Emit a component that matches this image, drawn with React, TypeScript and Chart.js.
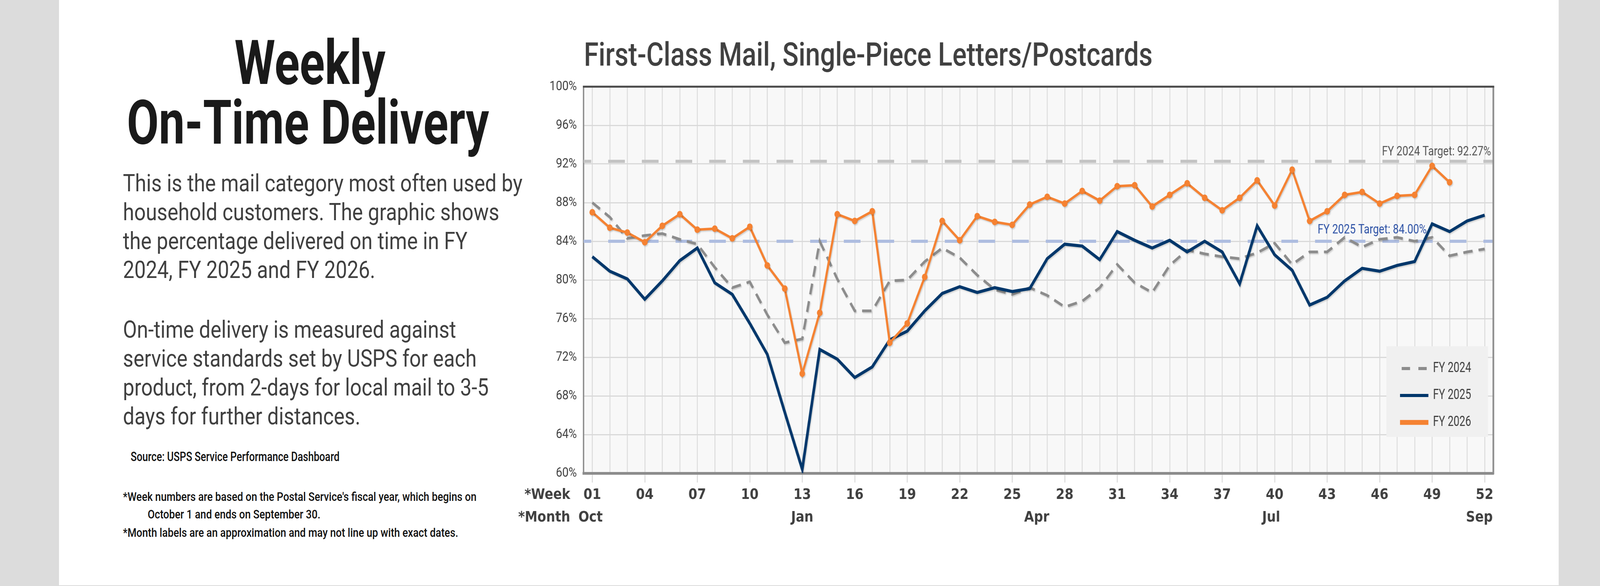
import { useEffect, useRef } from "react";
import { Chart, registerables } from "chart.js";

Chart.register(...registerables);

// ---- data ----
const weeks = [
  "01", "02", "03", "04", "05", "06", "07", "08", "09", "10",
  "11", "12", "13", "14", "15", "16", "17", "18", "19", "20",
  "21", "22", "23", "24", "25", "26", "27", "28", "29", "30",
  "31", "32", "33", "34", "35", "36", "37", "38", "39", "40",
  "41", "42", "43", "44", "45", "46", "47", "48", "49", "50",
  "51", "52",
];

const fy2024 = [
  88.0, 86.5, 84.3, 84.6, 84.8, 84.2, 83.7, 81.3, 79.2, 79.8,
  76.4, 73.5, 73.9, 84.0, 80.1, 76.8, 76.8, 79.9, 80.0, 81.9,
  83.3, 82.3, 80.5, 79.0, 78.5, 79.2, 78.4, 77.2, 77.8, 79.2,
  81.6, 79.7, 78.7, 81.5, 83.1, 82.7, 82.4, 82.2, 82.8, 83.8,
  81.6, 82.9, 82.9, 84.4, 83.4, 84.2, 84.4, 84.0, 84.4, 82.5,
  82.9, 83.2,
];

const fy2025 = [
  82.4, 80.9, 80.1, 78.0, 79.9, 82.0, 83.3, 79.7, 78.5, 75.5,
  72.3, 66.3, 60.4, 72.8, 71.8, 69.9, 71.0, 73.8, 74.7, 76.8,
  78.6, 79.3, 78.7, 79.2, 78.8, 79.1, 82.2, 83.7, 83.5, 82.1,
  85.0, 84.1, 83.3, 84.1, 82.9, 84.0, 82.9, 79.6, 85.6, 82.6,
  81.0, 77.4, 78.2, 79.9, 81.2, 80.9, 81.5, 81.9, 85.8, 85.0,
  86.1, 86.7,
];

const fy2026 = [
  87.0, 85.4, 84.9, 83.9, 85.6, 86.8, 85.2, 85.3, 84.3, 85.5,
  81.5, 79.1, 70.3, 76.6, 86.8, 86.1, 87.1, 73.5, 75.5, 80.3,
  86.1, 84.1, 86.6, 86.0, 85.7, 87.8, 88.6, 87.9, 89.2, 88.2,
  89.7, 89.8, 87.6, 88.8, 90.0, 88.5, 87.2, 88.5, 90.3, 87.7,
  91.4, 86.1, 87.1, 88.8, 89.1, 87.9, 88.7, 88.8, 91.8, 90.1,
  null, null,
];

const seriesNames = ["FY 2024", "FY 2025", "FY 2026"];
const targetValues = [92.27, 84.0];
const targetLabels = ["FY 2024 Target: 92.27%", "FY 2025 Target: 84.00%"];
const monthLabels = ["Oct", "Jan", "Apr", "Jul", "Sep"];
const monthWeeks = [0.9, 13, 26.4, 39.8, 51.7];
const yMin = 60;
const yMax = 100;
const yStep = 4;

const chartTitle = "First-Class Mail, Single-Piece Letters/Postcards";
const weekCaption = "*Week";
const monthCaption = "*Month";

// the design is laid out on the 4801x1501 reference grid and squeezed to the real window
const DESIGN_W = 4801;
const DESIGN_H = 1501;

const ROBOTO = "Roboto, 'Noto Sans', sans-serif";
const AXIS_FONT = "bold 38px 'DejaVu Sans', sans-serif";

function drawText(
  ctx: CanvasRenderingContext2D,
  text: string,
  x: number,
  y: number,
  font: string,
  color: string,
  align: CanvasTextAlign,
  baseline: CanvasTextBaseline,
  sx = 1
) {
  ctx.save();
  ctx.font = font;
  ctx.fillStyle = color;
  ctx.textAlign = align;
  ctx.textBaseline = baseline;
  ctx.translate(x, y);
  ctx.scale(sx, 1);
  ctx.fillText(text, 0, 0);
  ctx.restore();
}

const decor = {
  id: "decor",
  beforeDraw(chart: any) {
    const { ctx, chartArea: a } = chart;
    ctx.save();
    ctx.fillStyle = "#f8f8f8";
    ctx.fillRect(a.left, a.top, a.right - a.left, a.bottom - a.top);
    ctx.restore();
  },
  beforeDatasetsDraw(chart: any) {
    const { ctx, chartArea: a, scales } = chart;
    const y = scales.y;

    // target lines + their labels
    const colors = ["#c3c3c3", "#aebde0"];
    const labelColors = ["#555555", "#2d52a6"];
    const labelRight = [a.right - 7, a.right - 200];
    const labelLift = [15, 20];
    targetValues.forEach((v, i) => {
      const py = y.getPixelForValue(v);
      ctx.save();
      ctx.strokeStyle = colors[i];
      ctx.lineWidth = 8;
      ctx.setLineDash([50, 51]);
      ctx.lineDashOffset = 27;
      ctx.beginPath();
      ctx.moveTo(a.left, py);
      ctx.lineTo(a.right, py);
      ctx.stroke();
      ctx.restore();
      drawText(ctx, targetLabels[i], labelRight[i], py - labelLift[i], `34px ${ROBOTO}`, labelColors[i], "right", "alphabetic", 0.92);
    });

    // top and right frame
    ctx.save();
    ctx.strokeStyle = "#8c8c8c";
    ctx.lineWidth = 5;
    ctx.beginPath();
    ctx.moveTo(a.right, a.top);
    ctx.lineTo(a.right, a.bottom + 3);
    ctx.stroke();
    ctx.strokeStyle = "#4a4a4a";
    ctx.lineWidth = 5;
    ctx.beginPath();
    ctx.moveTo(a.left - 2, a.top);
    ctx.lineTo(a.right + 2.5, a.top);
    ctx.stroke();
    ctx.restore();
  },
  beforeDatasetDraw(chart: any) {
    const ctx = chart.ctx;
    ctx.save();
    ctx.shadowColor = "rgba(0,0,0,0.16)";
    ctx.shadowOffsetX = 2;
    ctx.shadowOffsetY = 3;
    ctx.shadowBlur = 3;
  },
  afterDatasetDraw(chart: any) {
    chart.ctx.restore();
  },
  afterDraw(chart: any) {
    const { ctx, chartArea: a, scales } = chart;
    const x = scales.x;

    drawText(ctx, chartTitle, a.left + 1, a.top - 54, `500 84px ${ROBOTO}`, "#404040", "left", "alphabetic", 0.95);

    drawText(ctx, weekCaption, a.left - 40, a.bottom + 56, AXIS_FONT, "#404040", "right", "middle");
    drawText(ctx, monthCaption, a.left - 40, a.bottom + 114, AXIS_FONT, "#404040", "right", "middle");
    monthLabels.forEach((m, i) => {
      drawText(ctx, m, x.getPixelForValue(monthWeeks[i] - 1), a.bottom + 114, AXIS_FONT, "#404040", "center", "middle");
    });

    // legend box inside the plot
    const boxW = 305;
    const boxH = 232;
    const boxL = a.right - 16 - boxW;
    const boxT = a.bottom - 93 - boxH;
    ctx.save();
    ctx.fillStyle = "#f0f0f0";
    ctx.fillRect(boxL, boxT, boxW, boxH);
    ctx.restore();
    const sampleWidths = [8, 8, 12.5];
    chart.data.datasets.forEach((ds: any, i: number) => {
      const cy = boxT + 57 + i * 69;
      ctx.save();
      ctx.strokeStyle = ds.borderColor;
      ctx.lineWidth = sampleWidths[i];
      ctx.beginPath();
      if (ds.borderDash) {
        ctx.setLineDash([25, 25]);
        ctx.moveTo(boxL + 46, cy);
        ctx.lineTo(boxL + 121, cy);
      } else {
        ctx.moveTo(boxL + 41, cy);
        ctx.lineTo(boxL + 126, cy);
      }
      ctx.stroke();
      ctx.restore();
      drawText(ctx, ds.label, boxL + 140, cy, `36px ${ROBOTO}`, "#404040", "left", "middle", 0.87);
    });
  },
};

function DeliveryChart() {
  const ref = useRef<HTMLCanvasElement | null>(null);

  useEffect(() => {
    if (!ref.current) return;
    const c = new Chart(ref.current, {
      type: "line",
      data: {
        labels: weeks,
        datasets: [
          {
            label: seriesNames[0],
            data: fy2024,
            borderColor: "#8c8c8c",
            borderWidth: 7,
            borderDash: [28, 18],
            pointRadius: 0,
            tension: 0,
            order: 3,
          },
          {
            label: seriesNames[1],
            data: fy2025,
            borderColor: "#00376b",
            borderWidth: 8,
            pointRadius: 0,
            tension: 0,
            order: 2,
          },
          {
            label: seriesNames[2],
            data: fy2026,
            borderColor: "#f58232",
            backgroundColor: "#f58232",
            pointBackgroundColor: "#f58232",
            borderWidth: 6.5,
            pointRadius: 8.5,
            pointBorderWidth: 0,
            tension: 0,
            order: 1,
          },
        ],
      },
      options: {
        animation: false,
        responsive: false,
        devicePixelRatio: 1,
        layout: { padding: { top: 182, right: 59, left: 0, bottom: 0 } },
        plugins: {
          legend: { display: false },
          title: { display: false },
          tooltip: { enabled: false },
        },
        scales: {
          x: {
            type: "category",
            offset: true,
            grid: {
              color: "#d9d9d9",
              lineWidth: 2.5,
              tickLength: 24,
              tickWidth: 2.5,
              tickColor: (ctx: any) => (ctx.index % 3 === 0 ? "#d4d4d4" : "rgba(0,0,0,0)"),
            },
            border: { color: "#8c8c8c", width: 7 },
            ticks: {
              autoSkip: false,
              maxRotation: 0,
              padding: 9,
              color: "#404040",
              font: { family: "'DejaVu Sans', sans-serif", weight: "bold", size: 38 },
              callback: (_v: any, i: number) => (i % 3 === 0 ? weeks[i] : ""),
            },
            afterFit: (s: any) => {
              s.height = 248;
            },
          },
          y: {
            min: yMin,
            max: yMax,
            grid: { color: "#d9d9d9", lineWidth: 3, drawTicks: false },
            border: { color: "#8c8c8c", width: 4 },
            ticks: {
              stepSize: yStep,
              padding: 20,
              color: "#404040",
              font: { family: ROBOTO, size: 34 },
              callback: (v: any) => `${v}%`,
            },
            afterFit: (s: any) => {
              s.width = 211;
            },
          },
        },
      },
      plugins: [decor],
    } as any);
    return () => c.destroy();
  }, []);

  return (
    <canvas
      ref={ref}
      width={3000}
      height={1420}
      style={{ position: "absolute", left: 1540, top: 40, width: 3000, height: 1420 }}
    />
  );
}

type LineProps = {
  text: string;
  x: number;
  baseline: number;
  size: number;
  weight?: number;
  color: string;
  sx?: number;
  center?: boolean;
};

function TextLine({ text, x, baseline, size, weight = 400, color, sx = 1, center = false }: LineProps) {
  const box = 2000;
  return (
    <div
      style={{
        position: "absolute",
        left: center ? x - box / 2 : x,
        top: baseline - 0.942 * size,
        width: center ? box : undefined,
        whiteSpace: "nowrap",
        fontFamily: ROBOTO,
        fontSize: size,
        fontWeight: weight,
        lineHeight: 1.2,
        color,
        textAlign: center ? "center" : "left",
        transform: `scaleX(${sx})`,
        transformOrigin: center ? "50% 0" : "0 0",
      }}
    >
      {text}
    </div>
  );
}

const intro = [
  "This is the mail category most often used by",
  "household customers. The graphic shows",
  "the percentage delivered on time in FY",
  "2024, FY 2025 and FY 2026.",
];
const method = [
  "On-time delivery is measured against",
  "service standards set by USPS for each",
  "product, from 2-days for local mail to 3-5",
  "days for further distances.",
];

export default function App() {
  const vw = document.documentElement.clientWidth || window.innerWidth || DESIGN_W;
  const vh = document.documentElement.clientHeight || window.innerHeight || DESIGN_H;
  const kx = Math.min(1, vw / DESIGN_W);
  const ky = Math.min(1, vh / DESIGN_H);

  return (
    <div style={{ position: "absolute", left: 0, top: 0, width: DESIGN_W * kx, height: DESIGN_H * ky, overflow: "hidden" }}>
      <div
        style={{
          position: "absolute",
          left: 0,
          top: 0,
          width: DESIGN_W,
          height: DESIGN_H,
          background: "#dcdcdc",
          transform: `scale(${kx}, ${ky})`,
          transformOrigin: "0 0",
        }}
      >
        <div style={{ position: "absolute", left: 177, top: 0, width: 4500, height: 1499, background: "#ffffff" }} />

        <TextLine text="Weekly" x={930} baseline={215} size={157} weight={700} color="#1a1a1a" sx={0.89} center />
        <TextLine text="On-Time Delivery" x={924} baseline={368} size={157} weight={700} color="#1a1a1a" sx={0.885} center />

        {intro.map((t, i) => (
          <TextLine key={t} text={t} x={369} baseline={490 + i * 74.3} size={61} color="#404040" />
        ))}
        {method.map((t, i) => (
          <TextLine key={t} text={t} x={369} baseline={865 + i * 74} size={61} color="#404040" />
        ))}

        <TextLine text="Source: USPS Service Performance Dashboard" x={392} baseline={1181} size={33} weight={500} color="#111111" sx={0.91} />
        <TextLine
          text="*Week numbers are based on the Postal Service's fiscal year, which begins on"
          x={369}
          baseline={1283}
          size={32}
          weight={500}
          color="#111111"
          sx={0.96}
        />
        <TextLine text="October 1 and ends on September 30." x={443} baseline={1328} size={32} weight={500} color="#111111" sx={0.96} />
        <TextLine
          text="*Month labels are an approximation and may not line up with exact dates."
          x={369}
          baseline={1375}
          size={32}
          weight={500}
          color="#111111"
          sx={0.96}
        />

        <DeliveryChart />
      </div>
    </div>
  );
}
